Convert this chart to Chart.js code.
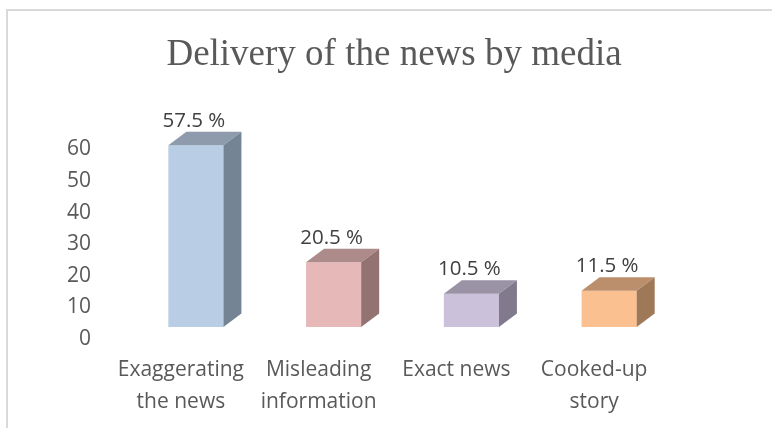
<!DOCTYPE html>
<html>
<head>
<meta charset="utf-8">
<script src="https://cdn.jsdelivr.net/npm/chart.js@4"></script>
<style>
    html, body { margin: 0; padding: 0; background: #ffffff; overflow: hidden; }
    #wrap { position: relative; width: 772px; height: 428px; }
    #frame {
        position: absolute; left: 6px; top: 9px; width: 900px; height: 600px;
        border: 2px solid #d9d9d9; box-sizing: border-box;
    }
    #newsChart { position: absolute; left: 0; top: 0; }
</style>
</head>
<body>
<div id="wrap">
    <div id="frame"></div>
    <canvas id="newsChart" width="772" height="428"></canvas>
</div>
<script>
// Survey answers, share of respondents in percent
const categories = [
    ["Exaggerating", "the news"],
    ["Misleading", "information"],
    ["Exact news"],
    ["Cooked-up", "story"]
];
const shares = [57.5, 20.5, 10.5, 11.5];
const yTicks = [0, 10, 20, 30, 40, 50, 60];

// Face colours for each box: front, top, right side
const frontColors = ["#b9cde5", "#e6b9b8", "#ccc1da", "#fac090"];
const topColors = ["#8d9bac", "#ad8b8a", "#9a92a5", "#bb8f6b"];
const sideColors = ["#748494", "#937371", "#817a8c", "#9f7857"];

const textGray = "#595959";
const depthX = 18;
const depthY = 13.5;

// Draws the top and right faces so the bars look like boxes, plus the value labels
const boxFaces = {
    id: "boxFaces",
    afterDatasetsDraw(chart) {
        const ctx = chart.ctx;
        const meta = chart.getDatasetMeta(0);
        ctx.save();
        meta.data.forEach((bar, i) => {
            const p = bar.getProps(["x", "y", "width", "base"], true);
            const left = p.x - p.width / 2;
            const right = p.x + p.width / 2;

            // top face
            ctx.fillStyle = topColors[i];
            ctx.beginPath();
            ctx.moveTo(left, p.y);
            ctx.lineTo(left + depthX, p.y - depthY);
            ctx.lineTo(right + depthX, p.y - depthY);
            ctx.lineTo(right, p.y);
            ctx.closePath();
            ctx.fill();

            // right face
            ctx.fillStyle = sideColors[i];
            ctx.beginPath();
            ctx.moveTo(right, p.y);
            ctx.lineTo(right + depthX, p.y - depthY);
            ctx.lineTo(right + depthX, p.base - depthY);
            ctx.lineTo(right, p.base);
            ctx.closePath();
            ctx.fill();

            // value label
            ctx.fillStyle = "#404040";
            ctx.font = "20.5px 'Open Sans'";
            ctx.textAlign = "center";
            ctx.textBaseline = "alphabetic";
            ctx.fillText(shares[i] + " %", p.x - 2, p.y - depthY - 5);
        });
        ctx.restore();
    }
};

new Chart(document.getElementById("newsChart"), {
    type: "bar",
    data: {
        labels: categories,
        datasets: [{
            data: shares,
            backgroundColor: frontColors,
            borderWidth: 0,
            barPercentage: 0.4,
            categoryPercentage: 1
        }]
    },
    options: {
        responsive: false,
        animation: false,
        layout: { padding: { left: 16, right: 0, top: 0, bottom: 0 } },
        plugins: {
            legend: { display: false },
            tooltip: { enabled: false },
            title: {
                display: true,
                text: "Delivery of the news by media",
                color: textGray,
                font: { family: "'Liberation Serif'", size: 37, weight: "normal" },
                padding: { top: 33, bottom: 60 }
            }
        },
        scales: {
            x: {
                grid: { display: false },
                border: { display: false },
                ticks: {
                    color: textGray,
                    font: { family: "'Open Sans'", size: 21, lineHeight: 1.52 },
                    padding: 19,
                    labelOffset: -15,
                    maxRotation: 0,
                    autoSkip: false
                },
                afterFit(scale) { scale.height = 101; }
            },
            y: {
                min: yTicks[0],
                max: yTicks[yTicks.length - 1],
                grid: { display: false },
                border: { display: false },
                ticks: {
                    stepSize: yTicks[1] - yTicks[0],
                    color: textGray,
                    font: { family: "'Open Sans'", size: 21 },
                    padding: 28,
                    labelOffset: 12
                },
                afterFit(scale) { scale.width = 111; }
            },
            // empty right-hand margin that keeps the plot area narrower than the title row
            yRight: {
                position: "right",
                grid: { display: false },
                border: { display: false },
                ticks: { display: false },
                afterFit(scale) { scale.width = 94; }
            }
        }
    },
    plugins: [boxFaces]
});
</script>
</body>
</html>
